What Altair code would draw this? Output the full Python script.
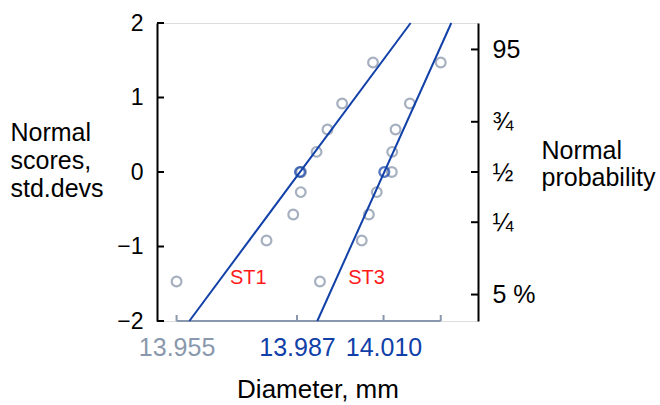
import altair as alt
import pandas as pd

# Normal scores (std. devs) of the ordered sample, shared by both series
scores = [-1.47, -0.92, -0.57, -0.27, 0.0, 0.27, 0.57, 0.92, 1.47]

# Ordered diameters, mm
st1_diam = [13.9550, 13.9789, 13.9860, 13.9880, 13.9881, 13.9922, 13.9951, 13.9990, 14.0072]
st3_diam = [13.9931, 14.0042, 14.0061, 14.0082, 14.0122, 14.0123, 14.0132, 14.0170, 14.0252]

# Fitted normal distributions
series_names = ["ST1", "ST3"]
series_mean = [13.9878, 14.0102]
series_sd = [0.0147, 0.0089]
label_pos_x = [13.9692, 14.0006]
label_pos_y = [-1.42, -1.42]

# Axis ticks
score_ticks = [-2, -1, 0, 1, 2]
diam_ticks = [13.955, 13.987, 14.010]
prob_scores = [1.645, 0.674, 0.0, -0.674, -1.645]
prob_labels = ["95", "¾", "½", "¼", "5 %"]

W, H = 321, 298
FONT = "Liberation Sans"
GRAY = "#8190a6"
BLUE = "#1040a8"
RED = "#ff1a1a"

xs = alt.Scale(domain=[13.9498, 14.0351], nice=False, zero=False)
ys = alt.Scale(domain=[-2, 2], nice=False, zero=False)

pts = pd.DataFrame({
    "diameter": st1_diam + st3_diam,
    "score": scores + scores,
    "series": ["ST1"] * len(st1_diam) + ["ST3"] * len(st3_diam),
})

fit_rows = []
for name, m, s in zip(series_names, series_mean, series_sd):
    for z in (-2, 2):
        fit_rows.append({"series": name, "diameter": m + z * s, "score": z})
fit = pd.DataFrame(fit_rows)

means = pd.DataFrame({"series": series_names, "diameter": series_mean, "score": [0.0, 0.0]})
labels = pd.DataFrame({"series": series_names, "x": label_pos_x, "y": label_pos_y})
all_diam = st1_diam + st3_diam

label_color = {"condition": {"test": "datum.value < 13.96", "value": "#8a98ad"}, "value": BLUE}

x_axis = alt.Axis(
    orient="bottom", values=diam_ticks, format=".3f", domain=False, ticks=False,
    tickSize=0, grid=False, labelPadding=14, labelFontSize=25, labelFont=FONT,
    labelColor=label_color, labelOverlap=False, labelFlush=False, labelBound=False,
    title="Diameter, mm", titleFont=FONT, titleFontSize=26, titleFontWeight="normal",
    titleColor="black", titlePadding=16,
)
y_axis_left = alt.Axis(
    orient="left", values=score_ticks, format="d", domain=True, domainColor="black",
    domainWidth=2, ticks=False, tickSize=0, grid=False, labelPadding=14,
    labelFontSize=23, labelFont=FONT, labelColor="black",
    title=["Normal", "scores,", "std.devs"], titleAngle=0, titleAlign="left",
    titleBaseline="alphabetic", titleX=-147, titleY=117, titleLineHeight=28,
    titleFont=FONT, titleFontSize=25, titleFontWeight="normal", titleColor="black",
)

expr = "''"
for s, l in zip(prob_scores, prob_labels):
    expr = f"abs(datum.value - ({s})) < 0.01 ? '{l}' : " + expr
y_axis_right = alt.Axis(
    orient="right", values=prob_scores, labelExpr=expr, domain=True,
    domainColor="black", domainWidth=2, ticks=False, tickSize=0, grid=False,
    labelPadding=14, labelFontSize=25, labelFont=FONT, labelColor="black",
    title=["Normal", "probability"], titleAngle=0, titleAlign="left",
    titleBaseline="alphabetic", titleX=63, titleY=135, titleLineHeight=27,
    titleFont=FONT, titleFontSize=25, titleFontWeight="normal", titleColor="black",
)

# range frame along the diameter axis: from smallest to largest observation
frame = alt.Chart(pd.DataFrame({"lo": [min(all_diam)], "hi": [max(all_diam)]})).mark_rule(
    color="#8a98ad", strokeWidth=2
).encode(
    x=alt.X("lo:Q", scale=xs, axis=x_axis), x2="hi:Q", y=alt.value(H),
)
frame_ticks = alt.Chart(pd.DataFrame({"d": diam_ticks + [max(all_diam)]})).mark_rule(
    color="#8a98ad", strokeWidth=2
).encode(
    x=alt.X("d:Q", scale=xs), y=alt.value(H - 6), y2=alt.value(H),
)

# inward ticks on the left score axis
left_ticks = alt.Chart(pd.DataFrame({"score": score_ticks})).mark_rule(
    color="black", strokeWidth=2
).encode(
    y=alt.Y("score:Q", scale=ys, axis=y_axis_left),
    x=alt.value(0), x2=alt.value(7),
)

# right probability axis with inward ticks
right_ticks = alt.Chart(pd.DataFrame({"score": prob_scores})).mark_rule(
    color="black", strokeWidth=2
).encode(
    y=alt.Y("score:Q", scale=ys, axis=y_axis_right),
    x=alt.value(W - 7), x2=alt.value(W),
)

points = alt.Chart(pts).mark_point(
    shape="circle", filled=False, stroke=GRAY, strokeWidth=2.2, size=95
).encode(
    x=alt.X("diameter:Q", scale=xs),
    y=alt.Y("score:Q", scale=ys, axis=None),
)

lines = alt.Chart(fit).mark_line(stroke=BLUE, strokeWidth=2).encode(
    x=alt.X("diameter:Q", scale=xs),
    y=alt.Y("score:Q", scale=ys, axis=None),
    detail="series:N",
)

mean_pts = alt.Chart(means).mark_point(
    shape="circle", filled=False, stroke=BLUE, strokeWidth=2.4, size=95
).encode(
    x=alt.X("diameter:Q", scale=xs),
    y=alt.Y("score:Q", scale=ys, axis=None),
)

names = alt.Chart(labels).mark_text(
    align="left", baseline="middle", color=RED, font=FONT, fontSize=20
).encode(
    x=alt.X("x:Q", scale=xs),
    y=alt.Y("y:Q", scale=ys, axis=None),
    text="series:N",
)

chart = alt.layer(
    frame, frame_ticks, left_ticks, right_ticks, points, lines, mean_pts, names
).resolve_axis(y="independent").properties(
    width=W, height=H,
    autosize=alt.AutoSizeParams(type="none"),
    padding={"left": 157, "top": 23, "right": 182, "bottom": 84},
).configure_view(stroke=None).configure(background="white")

chart.save("out.html", embed_options={"renderer": "svg", "actions": False})
